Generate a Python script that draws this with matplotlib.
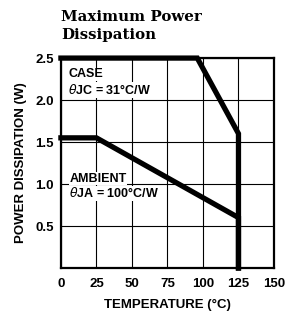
import matplotlib
matplotlib.use("Agg")
import matplotlib.pyplot as plt

# Data
case_temp = [0, 96, 125, 125]
case_power = [2.5, 2.5, 1.6, 0.0]
amb_temp = [0, 25, 125, 125]
amb_power = [1.55, 1.55, 0.6, 0.0]
x_ticks = [0, 25, 50, 75, 100, 125, 150]
y_ticks = [0.5, 1.0, 1.5, 2.0, 2.5]
y_tick_labels = ["0.5", "1.0", "1.5", "2.0", "2.5"]

fig = plt.figure(figsize=(2.86, 3.2), dpi=100)
ax = fig.add_axes([0.213, 0.1625, 0.745, 0.656])
ax.set_xlim(0, 150)
ax.set_ylim(0, 2.5)

ax.plot(case_temp, case_power, color="black", lw=3.8, solid_joinstyle="miter", clip_on=False, zorder=3)
ax.plot(amb_temp, amb_power, color="black", lw=3.8, solid_joinstyle="miter", clip_on=False, zorder=3)

ax.set_xticks(x_ticks)
ax.set_yticks(y_ticks)
ax.set_yticklabels(y_tick_labels)
ax.grid(True, color="black", lw=0.8)
ax.tick_params(length=0, labelsize=9.5)
ax.tick_params(axis="x", pad=7)
ax.tick_params(axis="y", pad=5)
for lab in ax.get_xticklabels() + ax.get_yticklabels():
    lab.set_fontweight("bold")
    lab.set_family("Liberation Sans")
for s in ax.spines.values():
    s.set_linewidth(1.6)

ax.set_xlabel("TEMPERATURE (°C)", fontsize=9.5, fontweight="bold", family="Liberation Sans", labelpad=7)
ax.set_ylabel("POWER DISSIPATION (W)", fontsize=9.5, fontweight="bold", family="Liberation Sans", labelpad=6)

ax.text(5, 2.27, "CASE", fontsize=9, fontweight="bold", family="Liberation Sans",
        bbox=dict(facecolor="white", edgecolor="none", pad=0.5))
ax.text(5, 2.07, r"$\theta$" + "JC = 31°C/W", fontsize=9, fontweight="bold", family="Liberation Sans",
        bbox=dict(facecolor="white", edgecolor="none", pad=0.5))
ax.text(6, 1.03, "AMBIENT", fontsize=9, fontweight="bold", family="Liberation Sans",
        bbox=dict(facecolor="white", edgecolor="none", pad=0.5))
ax.text(6, 0.84, r"$\theta$" + "JA = 100°C/W", fontsize=9, fontweight="bold", family="Liberation Sans",
        bbox=dict(facecolor="white", edgecolor="none", pad=0.5))

fig.text(0.213, 0.968, "Maximum Power\nDissipation", fontsize=10.8, fontweight="bold",
         family="DejaVu Serif", va="top", ha="left", linespacing=1.3)

fig.savefig("out.png", dpi=100)
